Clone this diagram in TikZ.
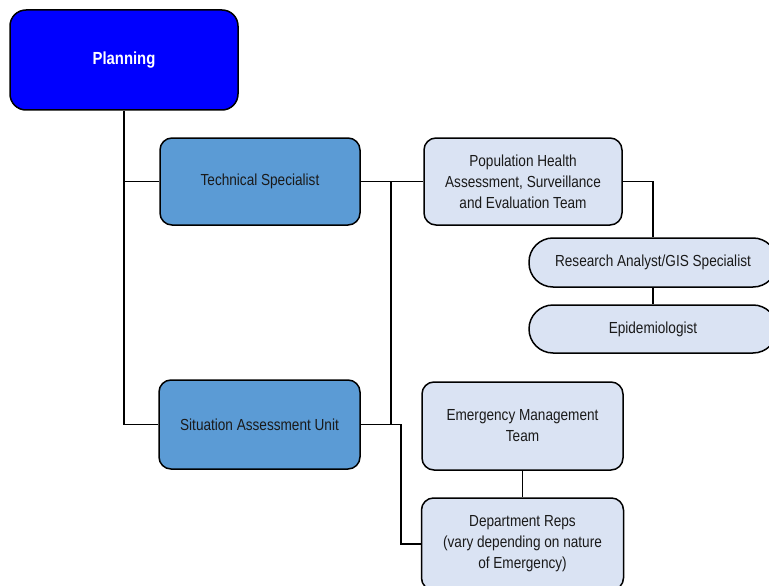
\documentclass[tikz,border=0pt]{standalone}
\usepackage{fontspec}
\setmainfont{Liberation Sans}[FakeStretch=0.85]
\definecolor{topblue}{HTML}{0000FF}
\definecolor{midblue}{HTML}{5B9BD5}
\definecolor{paleblue}{HTML}{DAE3F3}
\definecolor{inktext}{HTML}{1A1A1A}
\begin{document}
\begin{tikzpicture}[x=1pt,y=-1pt,
  box/.style={draw=black, line width=1.5pt, rounded corners=12pt, align=center,
    font=\fontsize{16}{21}\selectfont, text=inktext, inner sep=0pt},
  lead/.style={box, fill=topblue, text=white, rounded corners=16pt,
    font=\fontsize{17.5}{21}\selectfont\bfseries},
  unit/.style={box, fill=midblue},
  team/.style={box, fill=paleblue},
  role/.style={box, fill=paleblue, rounded corners=24pt},
  link/.style={draw=black, line width=1.5pt}]
\useasboundingbox (0,0) rectangle (769,586);

% boxes
\node[lead, minimum width=228pt, minimum height=100pt] (plan) at (124,60) {Planning};
\node[unit, minimum width=200pt, minimum height=87pt] (tech) at (260,181.5) {Technical Specialist};
\node[unit, minimum width=201pt, minimum height=89pt] (sit) at (259.5,424.5) {Situation Assessment Unit};
\node[team, minimum width=198pt, minimum height=87pt] (pop) at (523,181.5)
  {Population Health\\Assessment, Surveillance\\and Evaluation Team};
\node[role, minimum width=248pt, minimum height=49pt] (res) at (653,262.5) {Research Analyst/GIS Specialist};
\node[role, minimum width=248pt, minimum height=48pt] (epi) at (653,329) {Epidemiologist};
\node[team, minimum width=201pt, minimum height=88pt] (em) at (522.5,426) {Emergency Management\\Team};
\node[team, minimum width=202pt, minimum height=92pt] (dept) at (522.5,544)
  {Department Reps\\(vary depending on nature\\of Emergency)};

% connectors
\draw[link] (plan.south) |- (sit.west);
\draw[link] (plan.south |- tech.west) -- (tech.west);
\draw[link] (tech.east) -- (pop.west);
\draw[link] ([xshift=30pt]tech.east) -- ([xshift=30pt]sit.east);
\draw[link] (sit.east) -- ++(40,0) |- (dept.west);
\draw[link] (pop.east) -| (res.north);
\draw[link] (res.south) -- (epi.north);
\draw[link] (em.south) -- (dept.north);
\end{tikzpicture}
\end{document}
